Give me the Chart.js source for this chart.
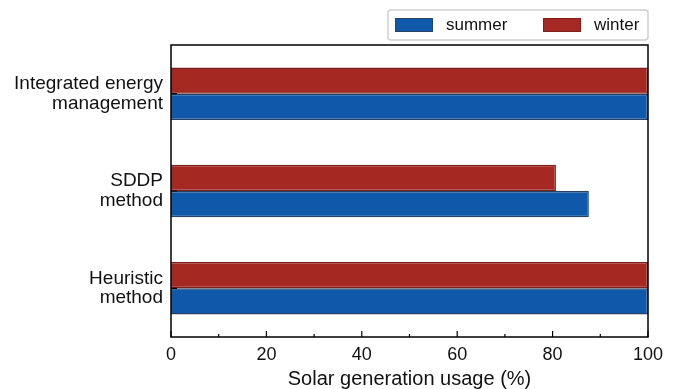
<!DOCTYPE html>
<html>
<head>
<meta charset="utf-8">
<script src="https://cdn.jsdelivr.net/npm/chart.js@4/dist/chart.umd.min.js"></script>
<style>
  html, body { margin: 0; padding: 0; background: #fff; }
  #wrap { width: 676px; height: 389px; position: relative; }
</style>
</head>
<body>
<div id="wrap"><canvas id="c" width="676" height="389"></canvas></div>
<script>
// Methods compared (y axis), multi-line labels
const methods = [
  ['Integrated energy', 'management'],
  ['SDDP', 'method'],
  ['Heuristic', 'method']
];
// Solar generation usage (%) per season
const summerUsage = [100, 87.6, 100];
const winterUsage = [100, 80.7, 100];
// x axis ticks
const xTicks = [0, 20, 40, 60, 80, 100];
const xMinorTicks = [10, 30, 50, 70, 90];

const FONT = 'Liberation Sans, Arial, sans-serif';
const BLUE = 'rgb(16,88,170)', BLUE_EDGE = 'rgb(38,66,104)';
const RED = 'rgb(166,40,35)', RED_EDGE = 'rgb(122,32,30)';

// Frame, inward ticks and boxed legend
const decor = {
  id: 'decor',
  afterDraw(chart) {
    const { ctx, chartArea: a, scales } = chart;
    ctx.save();
    ctx.strokeStyle = '#000';
    ctx.lineWidth = 1.5;
    ctx.strokeRect(a.left, a.top, a.right - a.left, a.bottom - a.top);
    ctx.lineWidth = 1.2;
    ctx.beginPath();
    xTicks.forEach(v => {
      const x = scales.x.getPixelForValue(v);
      ctx.moveTo(x, a.bottom); ctx.lineTo(x, a.bottom - 6);
    });
    xMinorTicks.forEach(v => {
      const x = scales.x.getPixelForValue(v);
      ctx.moveTo(x, a.bottom); ctx.lineTo(x, a.bottom - 3);
    });
    methods.forEach((m, i) => {
      const y = scales.y.getPixelForValue(i);
      ctx.moveTo(a.left, y); ctx.lineTo(a.left + 6, y);
    });
    ctx.stroke();

    // legend box
    const lx = 388, ly = 10, lw = 260, lh = 30;
    ctx.strokeStyle = '#cfcfcf';
    ctx.lineWidth = 1.5;
    ctx.beginPath();
    ctx.roundRect(lx, ly, lw, lh, 3);
    ctx.stroke();
    const items = [
      { label: 'summer', fill: BLUE, edge: BLUE_EDGE, x: 395 },
      { label: 'winter', fill: RED, edge: RED_EDGE, x: 543 }
    ];
    ctx.font = '17px ' + FONT;
    ctx.textBaseline = 'middle';
    ctx.textAlign = 'left';
    items.forEach(it => {
      ctx.fillStyle = it.fill;
      ctx.fillRect(it.x, 18, 38, 14);
      ctx.strokeStyle = it.edge;
      ctx.lineWidth = 1;
      ctx.strokeRect(it.x + 0.5, 18.5, 37, 13);
      ctx.fillStyle = '#111';
      ctx.fillText(it.label, it.x + 51, 25.5);
    });
    ctx.restore();
  }
};

new Chart(document.getElementById('c'), {
  type: 'bar',
  data: {
    labels: methods,
    datasets: [
      { label: 'winter', data: winterUsage, backgroundColor: RED, borderColor: RED_EDGE,
        borderWidth: 1.5, categoryPercentage: 0.54, barPercentage: 1.0 },
      { label: 'summer', data: summerUsage, backgroundColor: BLUE, borderColor: BLUE_EDGE,
        borderWidth: 1.5, categoryPercentage: 0.54, barPercentage: 1.0 }
    ]
  },
  options: {
    indexAxis: 'y',
    responsive: false,
    animation: false,
    devicePixelRatio: 1,
    layout: { padding: { top: 45, right: 28, left: 0, bottom: 0 } },
    plugins: { legend: { display: false }, tooltip: { enabled: false } },
    scales: {
      x: {
        min: 0, max: 100,
        afterFit(s) { s.height = 52; },
        afterBuildTicks(s) { s.ticks = xTicks.map(v => ({ value: v })); },
        grid: { display: false, drawTicks: false },
        border: { display: false },
        ticks: { color: '#111', font: { family: FONT, size: 18 }, padding: 7 },
        title: { display: true, text: 'Solar generation usage (%)', color: '#111',
                 font: { family: FONT, size: 20 }, padding: { top: 0, bottom: -2 } }
      },
      y: {
        afterFit(s) { s.width = 171; },
        grid: { display: false, drawTicks: false },
        border: { display: false },
        ticks: { color: '#111', font: { family: FONT, size: 19, lineHeight: 1.03 }, padding: 8 }
      }
    }
  },
  plugins: [decor]
});
</script>
</body>
</html>
